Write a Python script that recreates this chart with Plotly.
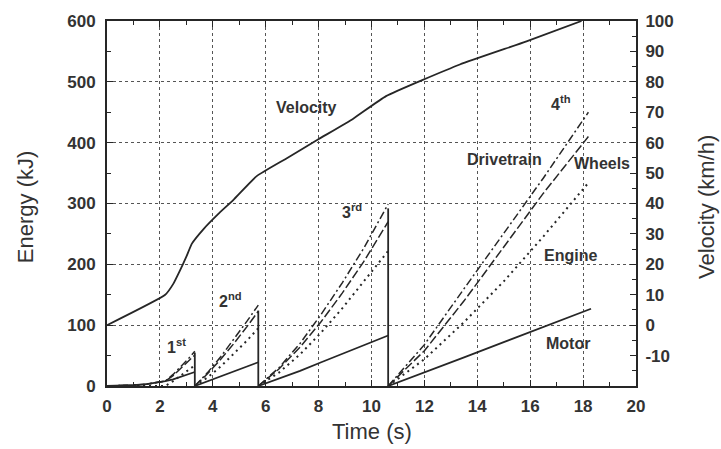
import plotly.graph_objects as go

# ---- time bases for each gear (s) ----
t_gear1 = [0, 0.5, 1.0, 1.5, 2.0, 2.2, 2.5, 2.8, 3.1, 3.32]
t_gear2 = [3.32, 3.8, 4.3, 4.8, 5.3, 5.72]
t_gear3 = [5.72, 6.5, 7.3, 8.1, 8.9, 9.7, 10.63]
t_gear4 = [10.63, 12.0, 13.5, 15.0, 16.5, 18.2]
t_motor4 = [10.63, 12.0, 13.5, 15.0, 16.5, 18.3]

# ---- energy per gear (kJ) ----
drivetrain_g1 = [0, 0.5, 1.5, 3, 6, 8, 19, 32, 46, 57]
drivetrain_g2 = [0, 22, 48, 77, 107, 133]
drivetrain_g3 = [0, 30, 70, 118, 170, 226, 299]
drivetrain_g4 = [0, 68, 160, 250, 342, 450]

wheels_g1 = [0, 0.5, 1.5, 3, 6, 8, 17, 29, 41, 51]
wheels_g2 = [0, 20, 44, 70, 98, 123]
wheels_g3 = [0, 28, 64, 106, 153, 204, 270]
wheels_g4 = [0, 58, 140, 228, 317, 410]

engine_g1 = [0, 0, 0, 0, 0, 0, 8, 17, 26, 34]
engine_g2 = [0, 14, 32, 53, 75, 95]
engine_g3 = [0, 22, 52, 88, 128, 172, 222]
engine_g4 = [0, 44, 105, 172, 246, 334]

motor_g1 = [0, 0.5, 1.5, 3, 6, 8, 11, 15, 19, 23]
motor_g2 = [0, 8, 16, 24, 32, 39]
motor_g3 = [0, 12, 25, 39, 53, 67, 83]
motor_g4 = [0, 22, 47, 72, 97, 127]

# gear-change reset lines
shift_times = [3.32, 5.72, 10.63]
shift_tops = [55, 124, 292]

# ---- vehicle speed (km/h) ----
vel_t = [0, 2.2, 2.5, 2.77, 3.0, 3.21, 3.65, 4.2, 4.78, 5.66, 6.8, 7.99, 9.31, 10.55, 13.34, 15.86, 17.94]
vel_kmh = [0, 10, 13.5, 18.2, 22.5, 26.8, 31.6, 36.5, 41.2, 49, 54.9, 61.1, 67.9, 75.3, 85.7, 93.3, 100]

# ---- axis ticks ----
x_ticks = [0, 2, 4, 6, 8, 10, 12, 14, 16, 18, 20]
e_ticks = [0, 100, 200, 300, 400, 500, 600]
v_ticks = [-10, 0, 10, 20, 30, 40, 50, 60, 70, 80, 90, 100]

INK = "#262626"
TXT = "#333333"
FONT = "Liberation Sans, Arial, sans-serif"


def join_segments(t_list, y_list):
    xs, ys = [], []
    for t, y in zip(t_list, y_list):
        xs += list(t) + [None]
        ys += list(y) + [None]
    return xs, ys


fig = go.Figure()

series = [
    ("Drivetrain", [t_gear1, t_gear2, t_gear3, t_gear4],
     [drivetrain_g1, drivetrain_g2, drivetrain_g3, drivetrain_g4], "8px,3px,2px,3px", 1.5),
    ("Wheels", [t_gear1, t_gear2, t_gear3, t_gear4],
     [wheels_g1, wheels_g2, wheels_g3, wheels_g4], "9px,3px", 1.5),
    ("Engine", [t_gear1, t_gear2, t_gear3, t_gear4],
     [engine_g1, engine_g2, engine_g3, engine_g4], "2px,4px", 2),
    ("Motor", [t_gear1, t_gear2, t_gear3, t_motor4],
     [motor_g1, motor_g2, motor_g3, motor_g4], "solid", 1.8),
]
for name, ts, ys, dash, w in series:
    xs, yv = join_segments(ts, ys)
    fig.add_trace(go.Scatter(x=xs, y=yv, mode="lines", name=name,
                             line=dict(color=INK, width=w, dash=dash),
                             showlegend=False))

# vertical drops at each gear change
sx, sy = [], []
for t, top in zip(shift_times, shift_tops):
    sx += [t, t, None]
    sy += [top, 0, None]
fig.add_trace(go.Scatter(x=sx, y=sy, mode="lines", line=dict(color=INK, width=1.8),
                         showlegend=False))

# speed on the secondary axis
fig.add_trace(go.Scatter(x=vel_t, y=vel_kmh, mode="lines", yaxis="y2",
                         line=dict(color=INK, width=1.8, shape="spline", smoothing=0.4),
                         showlegend=False))

labels = [
    ("Velocity", 7.53, 457),
    ("1<sup>st</sup>", 2.62, 66),
    ("2<sup>nd</sup>", 4.66, 141),
    ("3<sup>rd</sup>", 9.26, 287),
    ("4<sup>th</sup>", 17.16, 466),
    ("Drivetrain", 15.04, 373),
    ("Wheels", 18.7, 365),
    ("Engine", 17.53, 214),
    ("Motor", 17.42, 70),
]
for text, x, y in labels:
    fig.add_annotation(x=x, y=y, xref="x", yref="y", text=f"<b>{text}</b>",
                       showarrow=False, font=dict(family=FONT, size=16, color=TXT))

# axis titles
fig.add_annotation(x=-0.155, y=0.49, xref="paper", yref="paper", text="Energy (kJ)",
                   xanchor="center", yanchor="middle",
                   textangle=-90, showarrow=False, font=dict(family=FONT, size=22, color=TXT))
fig.add_annotation(x=1.132, y=0.49, xref="paper", yref="paper", text="Velocity (km/h)",
                   xanchor="center", yanchor="middle",
                   textangle=-90, showarrow=False, font=dict(family=FONT, size=22, color=TXT))
fig.add_annotation(x=0.5, y=-0.124, xref="paper", yref="paper", text="Time (s)",
                   xanchor="center", yanchor="middle",
                   showarrow=False, font=dict(family=FONT, size=22, color=TXT))

grid = dict(showgrid=True, gridcolor="#555555", griddash="dot", gridwidth=1)
tickfont = dict(family=FONT, size=17, color=TXT)

fig.update_layout(
    width=721, height=449,
    margin=dict(l=107, r=85, t=16, b=63),
    paper_bgcolor="white", plot_bgcolor="white",
    xaxis=dict(range=[0, 20], tickvals=x_ticks, ticktext=[f"<b>{v}</b>" for v in x_ticks],
               ticks="inside", ticklen=6, tickcolor=INK, tickwidth=1.3,
               minor=dict(dtick=1, tick0=0, ticks="inside", ticklen=4, tickcolor=INK, showgrid=False),
               showline=True, linecolor=INK, linewidth=2, mirror="ticks",
               tickfont=tickfont, ticklabelstandoff=4, zeroline=False, **grid),
    yaxis=dict(range=[0, 600], tickvals=e_ticks, ticktext=[f"<b>{v}</b>" for v in e_ticks],
               ticks="inside", ticklen=6, tickcolor=INK, tickwidth=1.3,
               minor=dict(dtick=50, tick0=0, ticks="inside", ticklen=4, tickcolor=INK, showgrid=False),
               showline=True, linecolor=INK, linewidth=2,
               tickfont=tickfont, ticklabelstandoff=6, zeroline=False, **grid),
    yaxis2=dict(range=[-20, 100], overlaying="y", side="right",
                tickvals=v_ticks, ticktext=[f"<b>{v}</b>" for v in v_ticks],
                ticks="inside", ticklen=6, tickcolor=INK, tickwidth=1.3,
                minor=dict(dtick=5, tick0=0, ticks="inside", ticklen=4, tickcolor=INK, showgrid=False),
                showline=True, linecolor=INK, linewidth=2, showgrid=False,
                tickfont=tickfont, ticklabelstandoff=4, zeroline=False),
)

fig.write_html("out.html")
